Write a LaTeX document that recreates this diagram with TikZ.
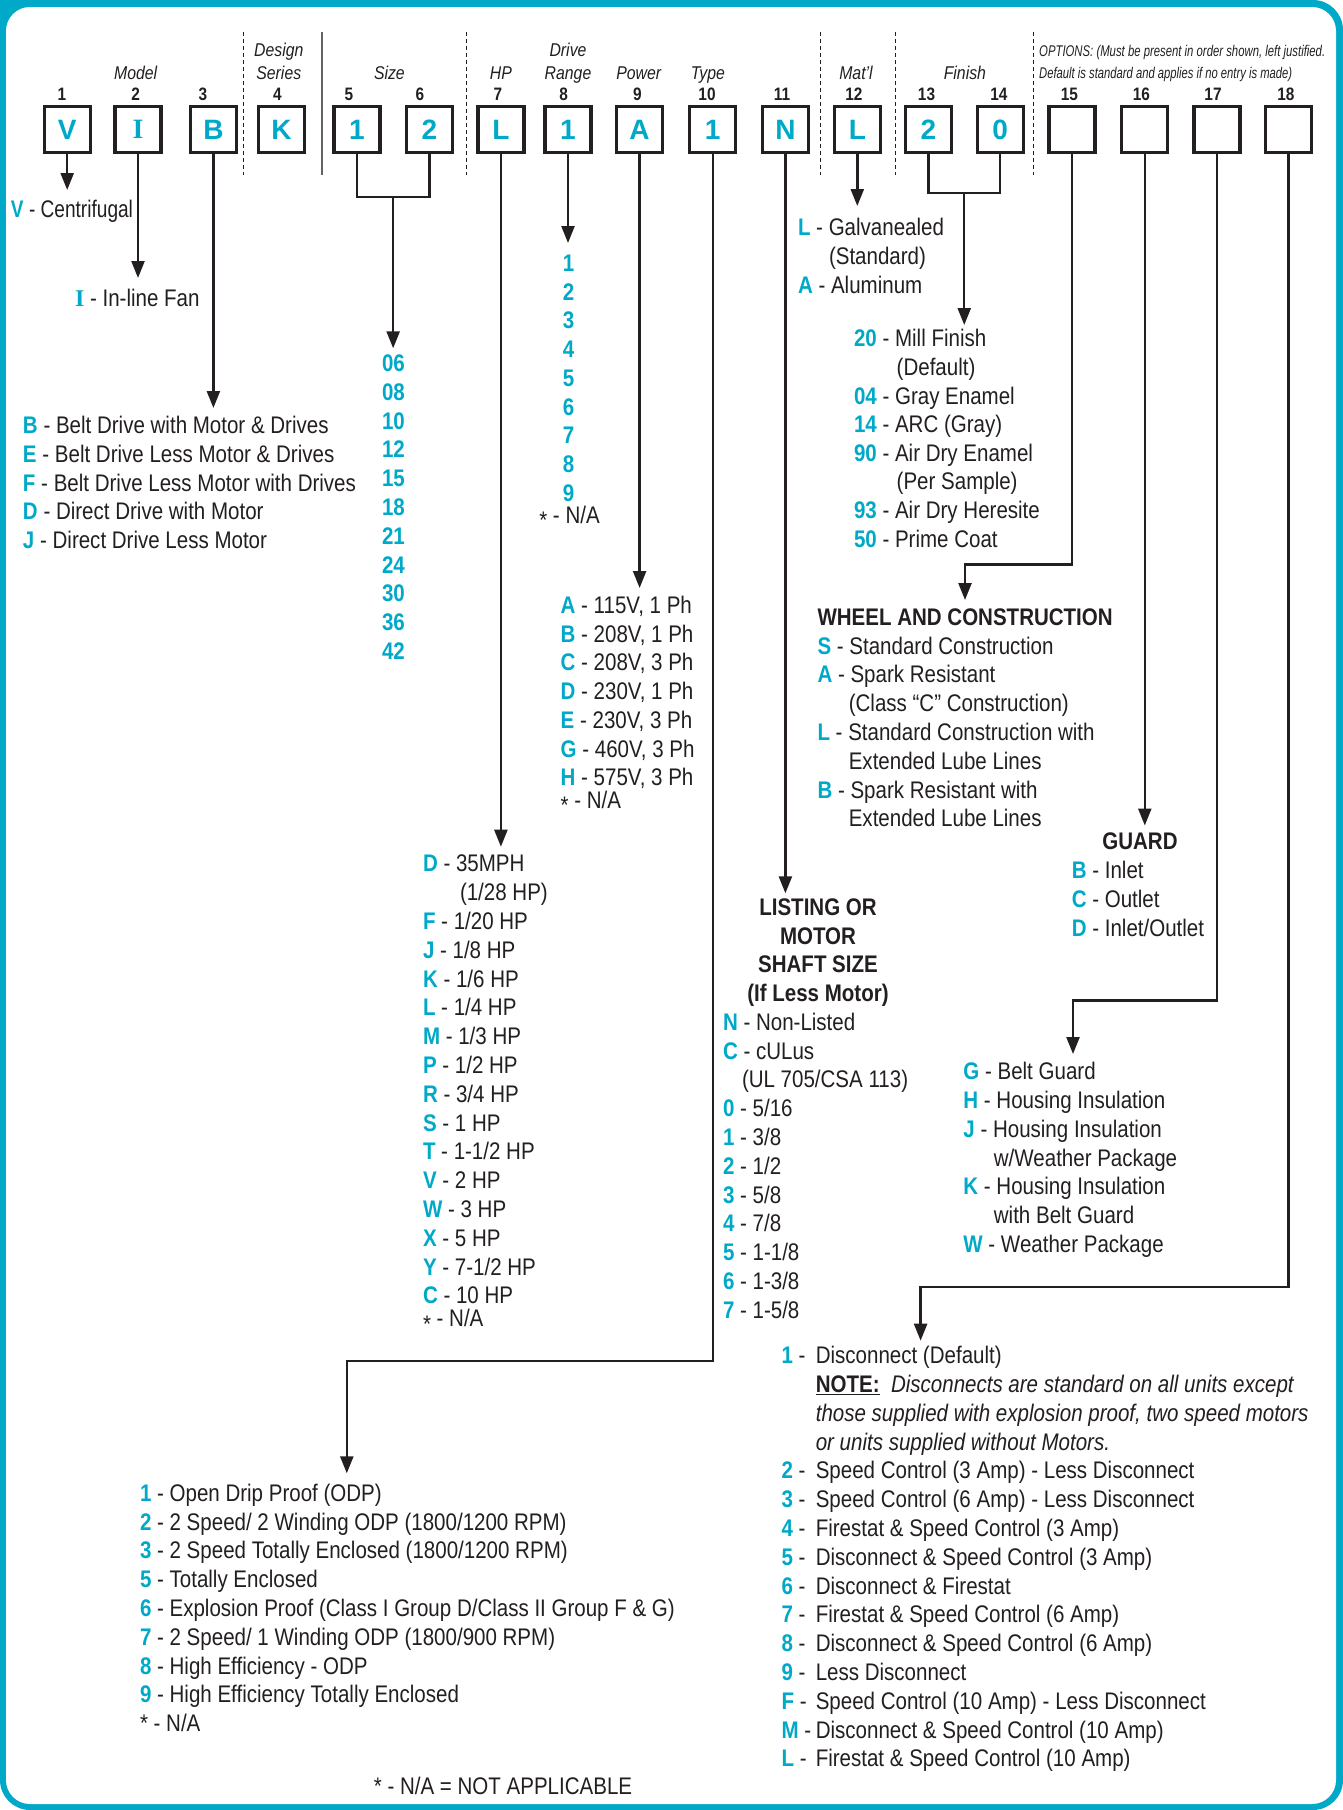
\documentclass[tikz,border=0pt]{standalone}
\usepackage{fontspec}
\setmainfont{Liberation Sans}[FakeStretch=0.855]
\newfontfamily\boxfont{Liberation Sans}
\newfontfamily\seriffont{Liberation Serif}
\usetikzlibrary{arrows.meta}
\definecolor{tealc}{RGB}{0,169,199}
\definecolor{ink}{RGB}{35,31,32}
\newcommand{\kk}[1]{\textcolor{tealc}{\bfseries #1}}
\newcommand{\lowast}{\raisebox{-0.22em}{*}}
\begin{document}
\begin{tikzpicture}[x=1pt,y=-1pt,
  txt/.style={font=\fontsize{24}{28.8}\selectfont, text=ink, inner sep=0pt, outer sep=0pt, anchor=base west},
  hb/.style={txt, font=\fontsize{24}{28.8}\selectfont\bfseries},
  codebox/.style={draw=ink, line width=3.3pt, minimum width=46pt, minimum height=46pt, inner sep=0pt,
     font=\boxfont\bfseries\fontsize{28}{28}\selectfont, text=tealc},
  num/.style={font=\bfseries\fontsize{18}{18}\selectfont, text=ink, inner sep=0pt, anchor=base},
  lab/.style={font=\itshape\fontsize{18.5}{18.5}\selectfont, text=ink, inner sep=0pt, anchor=base},
  conn/.style={draw=ink, line width=2.4pt},
  arr/.style={conn, -{Triangle[length=17pt,width=13pt]}},
  dashdiv/.style={draw=ink, line width=1.3pt, dash pattern=on 4pt off 3pt},
  soliddiv/.style={draw=ink!70, line width=1.8pt}
]
\useasboundingbox (0,0) rectangle (1343,1810);
\fill[white] (0,0) rectangle (1343,1810);
% frame
\fill[tealc, rounded corners=30pt] (0,0) rectangle (1343,1810);
\fill[tealc] (0,0) rectangle (40,40);
\fill[white, rounded corners=24pt] (6,7) rectangle (1336,1804);

% ---------- header boxes ----------
\node[codebox] (b1) at (67.2,129.5) {V};
\node[codebox] (b2) at (138,129.5) {{\seriffont\bfseries I}};
\node[codebox] (b3) at (213.4,129.5) {B};
\node[codebox] (b4) at (281.5,129.5) {K};
\node[codebox] (b5) at (357,129.5) {1};
\node[codebox] (b6) at (429.3,129.5) {2};
\node[codebox] (b7) at (500.9,129.5) {L};
\node[codebox] (b8) at (568,129.5) {1};
\node[codebox] (b9) at (639.6,129.5) {A};
\node[codebox] (b10) at (712.7,129.5) {1};
\node[codebox] (b11) at (785.4,129.5) {N};
\node[codebox] (b12) at (857.3,129.5) {L};
\node[codebox] (b13) at (928.3,129.5) {2};
\node[codebox] (b14) at (1000.2,129.5) {0};
\node[codebox] (b15) at (1072,129.5) {};
\node[codebox] (b16) at (1144.8,129.5) {};
\node[codebox] (b17) at (1217,129.5) {};
\node[codebox] (b18) at (1288.3,129.5) {};

% ---------- position numbers ----------
\foreach \x/\n [count=\i] in {62/1,135.7/2,203/3,277.5/4,349/5,420/6,497.8/7,563.7/8,637.5/9,707/10,782/11,853.8/12,926.5/13,998.8/14,1069.4/15,1141.3/16,1213/17,1285.9/18}
  \node[num] (n\i) at (\x,100.7) {\n};

% ---------- field labels ----------
\node[lab] (lmodel) at (135.7,79.3) {Model};
\node[lab] (ldesign) at (278.8,56.7) {Design};
\node[lab] (lseries) at (278.8,79.3) {Series};
\node[lab] (lsize) at (389.4,79.3) {Size};
\node[lab] (lhp) at (500.9,79.3) {HP};
\node[lab] (ldrive) at (568,56.7) {Drive};
\node[lab] (lrange) at (568,79.3) {Range};
\node[lab] (lpower) at (638.8,79.3) {Power};
\node[lab] (ltype) at (707.9,79.3) {Type};
\node[lab] (lmat) at (856,79.3) {Mat’l};
\node[lab] (lfinish) at (964.9,79.3) {Finish};
\node[lab, anchor=base west, font=\itshape\fontsize{15.5}{15.5}\selectfont] (lopt1) at (1039,56.7)
  {\resizebox{286pt}{\height}{OPTIONS: (Must be present in order shown, left justified.}};
\node[lab, anchor=base west, font=\itshape\fontsize{15.5}{15.5}\selectfont] (lopt2) at (1039,78.7)
  {\resizebox{253pt}{\height}{Default is standard and applies if no entry is made)}};

% ---------- dividers ----------
\coordinate (dbot) at (0,175);
\foreach \x [count=\i] in {243.7,466.2,820.3,895.2,1033.3} {
  \coordinate (dv\i) at (\x,31.7);
  \draw[dashdiv] (dv\i) -- (dv\i |- dbot);
}
\coordinate (sv) at (321.8,31.7);
\draw[soliddiv] (sv) -- (sv |- dbot);

% ---------- connectors ----------
\coordinate (t1) at (0,190);     \draw[arr] (b1) -- (b1 |- t1);
\coordinate (t2) at (0,278);     \draw[arr] (b2) -- (b2 |- t2);
\coordinate (t3) at (0,408);     \draw[arr] (b3) -- (b3 |- t3);
\coordinate (j56) at (393.15,196.7);
\coordinate (t56) at (393.15,348.3);
\draw[conn] (b5) |- (j56) -| (b6);
\draw[arr] (j56) -- (t56);
\coordinate (t7) at (0,846.7);   \draw[arr] (b7) -- (b7 |- t7);
\coordinate (t8) at (0,243);     \draw[arr] (b8) -- (b8 |- t8);
\coordinate (t9) at (0,588);     \draw[arr] (b9) -- (b9 |- t9);
\coordinate (e10) at (346.8,1360.7);
\coordinate (t10) at (346.8,1473.3);
\draw[arr] (b10) |- (e10) -- (t10);
\coordinate (t11) at (0,893.3);  \draw[arr] (b11) -- (b11 |- t11);
\coordinate (t12) at (0,206);    \draw[arr] (b12) -- (b12 |- t12);
\coordinate (j1314) at (964.25,192.7);
\coordinate (t1314) at (964.25,325);
\draw[conn] (b13) |- (j1314) -| (b14);
\draw[arr] (j1314) -- (t1314);
\coordinate (e15) at (965,564.3);
\coordinate (t15) at (965,600);
\draw[arr] (b15) |- (e15) -- (t15);
\coordinate (t16) at (0,825.5);  \draw[arr] (b16) -- (b16 |- t16);
\coordinate (e17) at (1073,1000.5);
\coordinate (t17) at (1073,1054);
\draw[arr] (b17) |- (e17) -- (t17);
\coordinate (e18) at (920.6,1286.7);
\coordinate (t18) at (920.6,1340.7);
\draw[arr] (b18) |- (e18) -- (t18);

% ---------- 1: type ----------
\node[txt] (v1) at (11,217.5) {\resizebox{122pt}{\height}{\kk{V} - Centrifugal}};
% ---------- 2: model ----------
\node[txt] (i1) at (75,306.5) {\textcolor{tealc}{\seriffont\bfseries I} - In-line Fan};
% ---------- 3: drive ----------
\foreach \k/\t [count=\i from 0] in {B/Belt Drive with Motor \& Drives, E/Belt Drive Less Motor \& Drives,
   F/Belt Drive Less Motor with Drives, D/Direct Drive with Motor, J/Direct Drive Less Motor}
  \node[txt] (dr\i) at (23,{433.5+28.8*\i}) {\kk{\k} - \t};
% ---------- 5-6: size ----------
\foreach \s [count=\i from 0] in {06,08,10,12,15,18,21,24,30,36,42}
  \node[txt] (sz\i) at (382,{371.5+28.8*\i}) {\kk{\s}};
% ---------- 8: drive range ----------
\foreach \s [count=\i from 0] in {1,2,3,4,5,6,7,8,9}
  \node[txt, anchor=base] (rg\i) at (568.5,{271.5+28.7*\i}) {\kk{\s}};
\node[txt] (rgna) at (539.3,523.5) {\lowast{} - N/A};
% ---------- 9: power ----------
\foreach \k/\t [count=\i from 0] in {A/{115V, 1 Ph},B/{208V, 1 Ph},C/{208V, 3 Ph},D/{230V, 1 Ph},
   E/{230V, 3 Ph},G/{460V, 3 Ph},H/{575V, 3 Ph}}
  \node[txt] (pw\i) at (560.7,{613.5+28.7*\i}) {\kk{\k} - \t};
\node[txt] (pwna) at (560.7,808.5) {\lowast{} - N/A};
% ---------- 7: HP ----------
\foreach \j/\k/\t in {0/D/35MPH,2/F/{1/20 HP},3/J/{1/8 HP},4/K/{1/6 HP},5/L/{1/4 HP},6/M/{1/3 HP},
   7/P/{1/2 HP},8/R/{3/4 HP},9/S/{1 HP},10/T/{1-1/2 HP},11/V/{2 HP},12/W/{3 HP},13/X/{5 HP},
   14/Y/{7-1/2 HP},15/C/{10 HP}}
  \node[txt] (hp\j) at (423,{871.8+28.8*\j}) {\kk{\k} - \t};
\node[txt] (hp1) at (460,900.6) {(1/28 HP)};
\node[txt] (hpna) at (423,1326.8) {\lowast{} - N/A};
% ---------- 10: motor type ----------
\foreach \k/\t [count=\i from 0] in {1/Open Drip Proof (ODP),2/{2 Speed/ 2 Winding ODP (1800/1200 RPM)},
   3/{2 Speed Totally Enclosed (1800/1200 RPM)},5/Totally Enclosed,
   6/{Explosion Proof (Class I Group D/Class II Group F \& G)},7/{2 Speed/ 1 Winding ODP (1800/900 RPM)},
   8/High Efficiency - ODP,9/High Efficiency Totally Enclosed}
  \node[txt] (ty\i) at (140,{1501.3+28.8*\i}) {\kk{\k} - \t};
\node[txt] (tyna) at (140,1731.7) {* - N/A};
% ---------- 11: listing ----------
\foreach \t [count=\i from 0] in {LISTING OR,MOTOR,SHAFT SIZE,(If Less Motor)}
  \node[hb, anchor=base] (lh\i) at (818,{915.3+28.8*\i}) {\t};
\foreach \j/\k/\t in {0/N/Non-Listed,1/C/cULus,3/0/{5/16},4/1/{3/8},5/2/{1/2},6/3/{5/8},7/4/{7/8},
   8/5/{1-1/8},9/6/{1-3/8},10/7/{1-5/8}}
  \node[txt] (ls\j) at (723,{1030.3+28.8*\j}) {\kk{\k} - \t};
\node[txt] (ls2) at (742,1087.9) {(UL 705/CSA 113)};
% ---------- 12: material ----------
\node[txt] (mt0) at (798,235.5) {\kk{L} - Galvanealed};
\node[txt] (mt1) at (829,264.3) {(Standard)};
\node[txt] (mt2) at (798,293.1) {\kk{A} - Aluminum};
% ---------- 13-14: finish ----------
\foreach \j/\k/\t in {0/20/Mill Finish,2/04/Gray Enamel,3/14/ARC (Gray),4/90/Air Dry Enamel,
   6/93/Air Dry Heresite,7/50/Prime Coat}
  \node[txt] (fn\j) at (854,{346.9+28.6*\j}) {\kk{\k} - \t};
\node[txt] (fn1) at (896.7,375.5) {(Default)};
\node[txt] (fn5) at (896.7,489.9) {(Per Sample)};
% ---------- 15: wheel ----------
\node[hb] (wh) at (817.5,625.2) {WHEEL AND CONSTRUCTION};
\node[txt] (wh0) at (817.5,654) {\kk{S} - Standard Construction};
\node[txt] (wh1) at (817.5,682.8) {\kk{A} - Spark Resistant};
\node[txt] (wh2) at (848.8,711.6) {(Class “C” Construction)};
\node[txt] (wh3) at (817.5,740.4) {\kk{L} - Standard Construction with};
\node[txt] (wh4) at (848.8,769.2) {Extended Lube Lines};
\node[txt] (wh5) at (817.5,798) {\kk{B} - Spark Resistant with};
\node[txt] (wh6) at (848.8,826.8) {Extended Lube Lines};
% ---------- 16: guard ----------
\node[hb, anchor=base] (gd) at (1140,849.6) {GUARD};
\node[txt] (gd0) at (1071.8,878.6) {\kk{B} - Inlet};
\node[txt] (gd1) at (1071.8,907.4) {\kk{C} - Outlet};
\node[txt] (gd2) at (1071.8,936.2) {\kk{D} - Inlet/Outlet};
% ---------- 17 ----------
\node[txt] (o0) at (963.4,1079.6) {\kk{G} - Belt Guard};
\node[txt] (o1) at (963.4,1108.4) {\kk{H} - Housing Insulation};
\node[txt] (o2) at (963.4,1137.2) {\kk{J} - Housing Insulation};
\node[txt] (o3) at (993.9,1166) {w/Weather Package};
\node[txt] (o4) at (963.4,1194.8) {\kk{K} - Housing Insulation};
\node[txt] (o5) at (993.9,1223.6) {with Belt Guard};
\node[txt] (o6) at (963.4,1252.4) {\kk{W} - Weather Package};
% ---------- 18 ----------
\node[txt] (c0) at (781.6,1363.6) {\makebox[34.2pt][l]{\kk{1} -}Disconnect (Default)};
\node[txt] (c1) at (815.8,1392.4) {\textbf{\underline{NOTE:}}\ \ \textit{Disconnects are standard on all units except}};
\node[txt] (c2) at (815.8,1421.2) {\textit{those supplied with explosion proof, two speed motors}};
\node[txt] (c3) at (815.8,1450) {\textit{or units supplied without Motors.}};
\foreach \k/\t [count=\i from 4] in {2/{Speed Control (3 Amp) - Less Disconnect},3/{Speed Control (6 Amp) - Less Disconnect},
   4/{Firestat \& Speed Control (3 Amp)},5/{Disconnect \& Speed Control (3 Amp)},6/{Disconnect \& Firestat},
   7/{Firestat \& Speed Control (6 Amp)},8/{Disconnect \& Speed Control (6 Amp)},9/{Less Disconnect},
   F/{Speed Control (10 Amp) - Less Disconnect},M/{Disconnect \& Speed Control (10 Amp)},
   L/{Firestat \& Speed Control (10 Amp)}}
  \node[txt] (c\i) at (781.6,{1363.6+28.8*\i}) {\makebox[34.2pt][l]{\kk{\k} -}\t};
% ---------- footer ----------
\node[txt, anchor=base] (foot) at (503,1794.5) {* - N/A = NOT APPLICABLE};
\end{tikzpicture}
\end{document}
